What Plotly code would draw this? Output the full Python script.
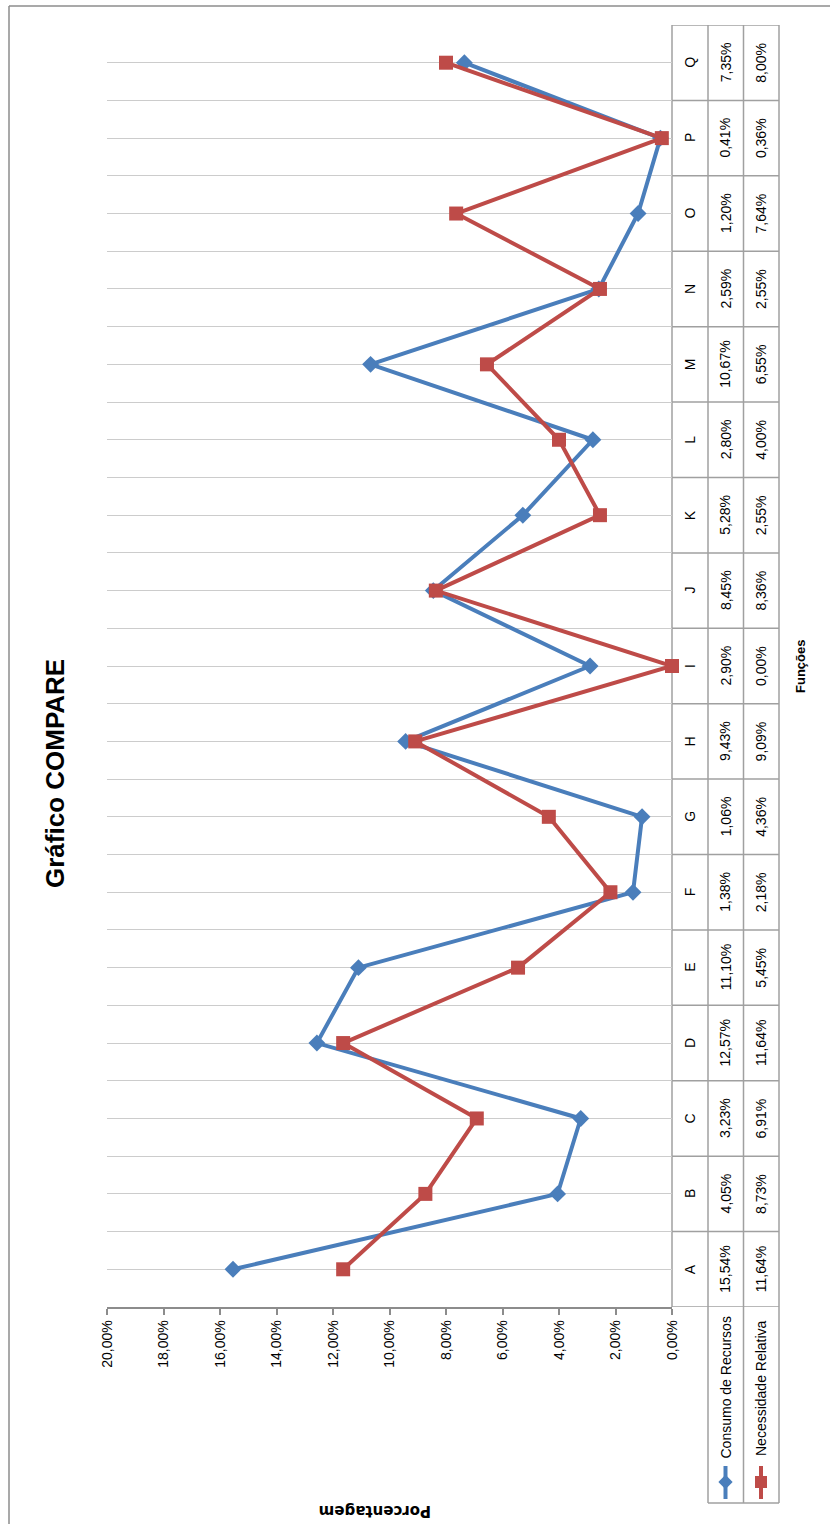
import plotly.graph_objects as go

W, H = 830, 1524
X_SCALE = 814  # horizontal mapping that compensates the page's side offset

categorias = ["A", "B", "C", "D", "E", "F", "G", "H", "I", "J", "K", "L", "M", "N", "O", "P", "Q"]
consumo_recursos = [15.54, 4.05, 3.23, 12.57, 11.10, 1.38, 1.06, 9.43, 2.90, 8.45, 5.28, 2.80, 10.67, 2.59, 1.20, 0.41, 7.35]
necessidade_relativa = [11.64, 8.73, 6.91, 11.64, 5.45, 2.18, 4.36, 9.09, 0.00, 8.36, 2.55, 4.00, 6.55, 2.55, 7.64, 0.36, 8.00]
series_nomes = ["Consumo de Recursos", "Necessidade Relativa"]
tick_vals = [0, 2, 4, 6, 8, 10, 12, 14, 16, 18, 20]

BLUE = "#4A7EBB"
RED = "#BE4B48"
FONT = "Liberation Sans"


def px(x):
    return (x - 8) / X_SCALE


def py(y):
    return 1 - y / H


def fmt(v):
    return f"{v:.2f}".replace(".", ",") + "%"


idx = list(range(len(categorias)))

fig = go.Figure()

# legend keys inside data table (helper axes covering the whole figure)
col_x = [725.5, 761]
for cx, col, sym, sz in [(col_x[0], BLUE, "diamond", 11), (col_x[1], RED, "square", 12)]:
    fig.add_trace(go.Scatter(x=[px(cx), px(cx)], y=[1466, 1499], mode="lines", line=dict(color=col, width=4),
                             xaxis="x2", yaxis="y2", showlegend=False, hoverinfo="skip", cliponaxis=False))
    fig.add_trace(go.Scatter(x=[px(cx)], y=[1482], mode="markers", marker=dict(symbol=sym, size=sz, color=col),
                             xaxis="x2", yaxis="y2", showlegend=False, hoverinfo="skip", cliponaxis=False))

fig.add_trace(go.Scatter(
    x=consumo_recursos, y=idx, mode="lines+markers", name=series_nomes[0],
    line=dict(color=BLUE, width=4), marker=dict(symbol="diamond", size=13, color=BLUE),
    cliponaxis=False, showlegend=False))
fig.add_trace(go.Scatter(
    x=necessidade_relativa, y=idx, mode="lines+markers", name=series_nomes[1],
    line=dict(color=RED, width=4), marker=dict(symbol="square", size=14, color=RED),
    cliponaxis=False, showlegend=False))

plot_top, plot_bot = 25, 1307
x_left, x_right = 107, 672
tbl = [672, 708, 743.5, 779]
tbl_bottom = 1503
GRID = "#cccccc"
BORDER = "#a0a0a0"

shapes = []
# outer chart border: top and left edges only (others fall outside the picture)
shapes.append(dict(type="line", xref="paper", yref="paper", x0=px(9), x1=1.2, y0=py(6), y1=py(6),
                   line=dict(color="#8c8c8c", width=1.5), layer="below"))
shapes.append(dict(type="line", xref="paper", yref="paper", x0=px(9), x1=px(9), y0=py(6), y1=-0.1,
                   line=dict(color="#8c8c8c", width=1.5), layer="below"))
for i, tx in enumerate(tbl):
    y_end = plot_bot if i == 0 else tbl_bottom
    shapes.append(dict(type="line", xref="paper", yref="paper", x0=px(tx), x1=px(tx), y0=py(plot_top), y1=py(y_end),
                       line=dict(color=BORDER, width=1.5), layer="below"))
for k in range(len(categorias) + 1):
    shapes.append(dict(type="line", xref="paper", yref="y", x0=px(tbl[0]), x1=px(tbl[-1]), y0=k - 0.5, y1=k - 0.5,
                       line=dict(color=BORDER, width=1.5), layer="below"))
shapes.append(dict(type="line", xref="paper", yref="paper", x0=px(tbl[1]), x1=px(tbl[-1]), y0=py(tbl_bottom), y1=py(tbl_bottom),
                   line=dict(color=BORDER, width=1.5), layer="below"))

annotations = []
tfont = dict(family=FONT, size=14, color="#000000")
C = dict(showarrow=False, xanchor="center", yanchor="middle")
for k, c in enumerate(categorias):
    annotations.append(dict(x=px(690), y=k, xref="paper", yref="y", text=c, textangle=-90, font=tfont, **C))
    annotations.append(dict(x=px(col_x[0]), y=k, xref="paper", yref="y", text=fmt(consumo_recursos[k]),
                            textangle=-90, font=tfont, **C))
    annotations.append(dict(x=px(col_x[1]), y=k, xref="paper", yref="y", text=fmt(necessidade_relativa[k]),
                            textangle=-90, font=tfont, **C))
annotations.append(dict(x=px(col_x[0]), y=py(1388), xref="paper", yref="paper", text=series_nomes[0],
                        textangle=-90, font=tfont, **C))
annotations.append(dict(x=px(col_x[1]), y=py(1388), xref="paper", yref="paper", text=series_nomes[1],
                        textangle=-90, font=tfont, **C))
annotations.append(dict(x=px(55), y=py(774), xref="paper", yref="paper", text="<b>Gráfico COMPARE</b>",
                        textangle=-90, font=dict(family=FONT, size=26, color="#000000"), **C))
annotations.append(dict(x=px(375), y=py(1511), xref="paper", yref="paper", text="<b>Porcentagem</b>",
                        textangle=180, font=dict(family="DejaVu Sans", size=15, color="#000000"), **C))
annotations.append(dict(x=px(800), y=py(667), xref="paper", yref="paper", text="<b>Funções</b>",
                        textangle=-90, font=dict(family=FONT, size=13, color="#000000"), **C))

fig.update_layout(
    width=W, height=H, margin=dict(l=0, r=0, t=0, b=0),
    paper_bgcolor="white", plot_bgcolor="rgba(0,0,0,0)",
    xaxis=dict(domain=[px(x_left), px(x_right)], range=[20, 0], tickvals=tick_vals,
               ticktext=[fmt(v) for v in tick_vals], tickangle=-90, showgrid=False, zeroline=False,
               showline=True, linecolor="#8c8c8c", linewidth=1.5, ticks="outside", ticklen=6, tickcolor="#8c8c8c",
               tickwidth=1.5, ticklabelstandoff=0, tickfont=dict(family=FONT, size=14, color="#000000")),
    yaxis=dict(domain=[py(plot_bot), py(plot_top)], range=[-0.5, len(categorias) - 0.5], tick0=0, dtick=0.5,
               showgrid=True, gridcolor=GRID, gridwidth=1.2, showticklabels=False, zeroline=False, ticks=""),
    xaxis2=dict(domain=[0, 1], range=[0, 1], visible=False, anchor="y2"),
    yaxis2=dict(domain=[0, 1], range=[H, 0], visible=False, anchor="x2"),
    shapes=shapes, annotations=annotations,
)

fig.write_html("out.html")
